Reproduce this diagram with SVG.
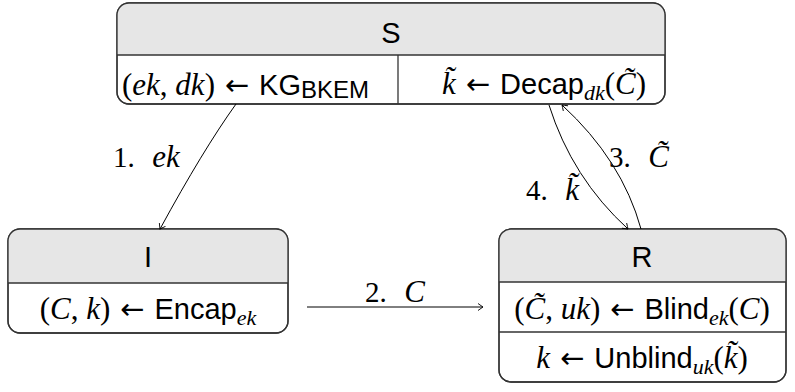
<svg xmlns="http://www.w3.org/2000/svg" width="795" height="392" viewBox="0 0 795 392">
  <style>
    .box { fill: #ffffff; stroke: #333333; stroke-width: 1.3; }
    .head { fill: #e6e6e6; }
    .rule { stroke: #333333; stroke-width: 1.3; fill: none; }
    .sf { font-family: "Liberation Sans", "DejaVu Sans", sans-serif; font-size: 29px; fill: #000; }
    .mi { font-family: "Liberation Serif", "DejaVu Serif", serif; font-style: italic; font-size: 31px; }
    .rm { font-family: "Liberation Serif", "DejaVu Serif", serif; font-style: normal; font-size: 31px; }
    .ar { font-family: "DejaVu Sans", sans-serif; font-size: 29px; }
    .sub { font-family: "Liberation Serif", "DejaVu Serif", serif; font-style: italic; font-size: 22px; }
    .ssub { font-family: "Liberation Sans", sans-serif; font-size: 24px; }
    .lbl { font-family: "Liberation Serif", "DejaVu Serif", serif; font-size: 29px; fill: #000; }
    .conn { fill: none; stroke: #000; stroke-width: 1; marker-end: url(#tip); }
  </style>
  <defs>
    <marker id="tip" viewBox="-6 -5 8 10" markerWidth="8" markerHeight="10" refX="0" refY="0" orient="auto" markerUnits="userSpaceOnUse">
      <path d="M-5,-3.5 Q-1.5,-1 0,0 Q-1.5,1 -5,3.5" fill="none" stroke="#000" stroke-width="0.9"/>
    </marker>
    <clipPath id="clipS"><rect x="117" y="3" width="548" height="101" rx="12"/></clipPath>
    <clipPath id="clipI"><rect x="8" y="229" width="280" height="104" rx="12"/></clipPath>
    <clipPath id="clipR"><rect x="499" y="229" width="287" height="153" rx="12"/></clipPath>
  </defs>

  <!-- S: server with key generation and decapsulation -->
  <g id="node-S">
    <rect class="box" x="117" y="3" width="548" height="101" rx="12"/>
    <rect class="head" x="117" y="3" width="548" height="52" clip-path="url(#clipS)"/>
    <rect x="117" y="3" width="548" height="101" rx="12" fill="none" stroke="#333" stroke-width="1.3"/>
    <line class="rule" x1="117" y1="55" x2="665" y2="55"/>
    <line class="rule" x1="398" y1="55" x2="398" y2="104"/>
    <text class="sf" x="391" y="43" text-anchor="middle">S</text>
    <text class="sf" x="122" y="95" xml:space="preserve"><tspan class="rm">(</tspan><tspan class="mi">ek</tspan><tspan class="rm">, </tspan><tspan class="mi">dk</tspan><tspan class="rm">) </tspan><tspan class="ar" dx="2">←</tspan><tspan dx="2"> KG</tspan><tspan class="ssub" dy="3">BKEM</tspan></text>
    <text class="sf" x="544" y="94" text-anchor="middle" xml:space="preserve"><tspan class="mi">k̃</tspan> <tspan class="ar" dx="2">←</tspan><tspan dx="2"> Decap</tspan><tspan class="sub" dy="6">dk</tspan><tspan class="rm" dy="-6">(</tspan><tspan class="mi">C̃</tspan><tspan class="rm">)</tspan></text>
  </g>

  <!-- I: initiator encapsulates -->
  <g id="node-I">
    <rect class="box" x="8" y="229" width="280" height="104" rx="12"/>
    <rect class="head" x="8" y="229" width="280" height="54" clip-path="url(#clipI)"/>
    <rect x="8" y="229" width="280" height="104" rx="12" fill="none" stroke="#333" stroke-width="1.3"/>
    <line class="rule" x1="8" y1="283" x2="288" y2="283"/>
    <text class="sf" x="148" y="267" text-anchor="middle">I</text>
    <text class="sf" x="148" y="319" text-anchor="middle" xml:space="preserve"><tspan class="rm">(</tspan><tspan class="mi">C</tspan><tspan class="rm">, </tspan><tspan class="mi">k</tspan><tspan class="rm">) </tspan><tspan class="ar" dx="2">←</tspan><tspan dx="2"> Encap</tspan><tspan class="sub" dy="6">ek</tspan></text>
  </g>

  <!-- R: receiver blinds and unblinds -->
  <g id="node-R">
    <rect class="box" x="499" y="229" width="287" height="153" rx="12"/>
    <rect class="head" x="499" y="229" width="287" height="53" clip-path="url(#clipR)"/>
    <rect x="499" y="229" width="287" height="153" rx="12" fill="none" stroke="#333" stroke-width="1.3"/>
    <line class="rule" x1="499" y1="282" x2="786" y2="282"/>
    <line class="rule" x1="499" y1="332" x2="786" y2="332"/>
    <text class="sf" x="642" y="267" text-anchor="middle">R</text>
    <text class="sf" x="642" y="319" text-anchor="middle" xml:space="preserve"><tspan class="rm">(</tspan><tspan class="mi">C̃</tspan><tspan class="rm">, </tspan><tspan class="mi">uk</tspan><tspan class="rm">) </tspan><tspan class="ar" dx="2">←</tspan><tspan dx="2"> Blind</tspan><tspan class="sub" dy="6">ek</tspan><tspan class="rm" dy="-6">(</tspan><tspan class="mi">C</tspan><tspan class="rm">)</tspan></text>
    <text class="sf" x="642" y="368" text-anchor="middle" xml:space="preserve"><tspan class="mi">k</tspan> <tspan class="ar" dx="2">←</tspan><tspan dx="2"> Unblind</tspan><tspan class="sub" dy="6">uk</tspan><tspan class="rm" dy="-6">(</tspan><tspan class="mi">k̃</tspan><tspan class="rm">)</tspan></text>
  </g>

  <!-- message flow -->
  <g id="connectors">
    <path class="conn" d="M236,104 Q203,150 160,229"/>
    <path class="conn" d="M307,307 L483,307"/>
    <path class="conn" d="M641,229 Q622,160 562,105"/>
    <path class="conn" d="M549,105 Q572,178 628,229"/>
    <text class="lbl" x="113" y="167" xml:space="preserve">1.  <tspan class="mi" font-size="30" dx="3">ek</tspan></text>
    <text class="lbl" x="395" y="302" text-anchor="middle" xml:space="preserve">2.  <tspan class="mi" font-size="30" dx="3">C</tspan></text>
    <text class="lbl" x="609" y="167" xml:space="preserve">3.  <tspan class="mi" font-size="30" dx="3">C̃</tspan></text>
    <text class="lbl" x="526" y="200" xml:space="preserve">4.  <tspan class="mi" font-size="30" dx="3">k̃</tspan></text>
  </g>
</svg>
